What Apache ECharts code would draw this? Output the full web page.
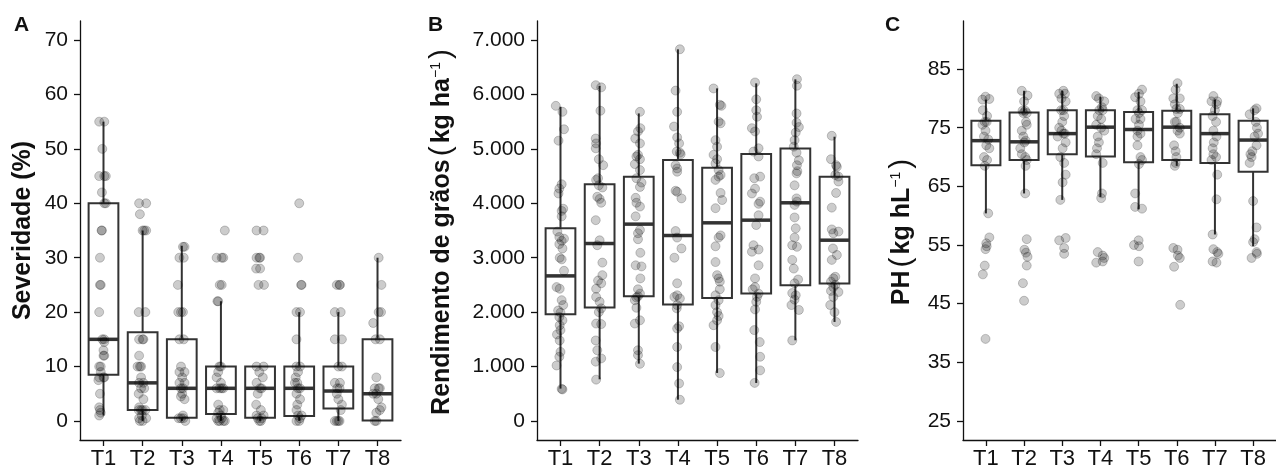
<!DOCTYPE html>
<html>
<head>
<meta charset="utf-8">
<script src="https://cdn.jsdelivr.net/npm/echarts@6/dist/echarts.min.js"></script>
<style>
  html, body { margin: 0; padding: 0; background: #fff; }
  #main { width: 1276px; height: 470px; }
</style>
</head>
<body>
<div id="main"></div>
<script>
var cats = ['T1', 'T2', 'T3', 'T4', 'T5', 'T6', 'T7', 'T8'];
var catIdx = [0, 1, 2, 3, 4, 5, 6, 7];

// caixas: [min, Q1, mediana, Q3, max]
var sevBox = [
  [1, 8.5, 15, 40, 55], [0, 2, 7, 16.3, 35], [0, 0.6, 6, 15, 32.2], [0, 1.3, 6, 10, 22],
  [0, 0.6, 6, 10, 10], [0, 0.9, 6, 10, 20], [0, 2.3, 5.5, 10, 20], [0, 0.1, 5, 15, 30]
];
var rendBox = [
  [595, 1961, 2666, 3543, 5774], [766, 2084, 3261, 4352, 6154], [1054, 2292, 3617, 4487, 5651],
  [392, 2139, 3408, 4793, 6828], [883, 2262, 3641, 4652, 6111], [699, 2342, 3690, 4904, 6203],
  [1483, 2495, 4009, 5008, 6277], [1820, 2525, 3322, 4487, 5223]
];
var phBox = [
  [60.4, 68.6, 72.8, 76.2, 79.8], [63.8, 69.5, 72.6, 77.6, 81.3], [62.7, 70.5, 74.0, 78.0, 81.3],
  [63.2, 70.1, 75.1, 78.0, 80.3], [61.1, 69.1, 74.7, 77.7, 81.1], [68.5, 69.5, 75.1, 77.9, 82.5],
  [56.8, 69.0, 74.0, 77.3, 79.8], [54.8, 67.5, 72.9, 76.2, 78.3]
];

// pontos: [valor, deslocamento do jitter]
var sevPts = [
  [[55,-0.11],[55,0.02],[50,-0.03],[45,-0.11],[45,0.02],[45,0.06],[42,-0.04],[40,0.02],[40,0.06],[35,-0.05],[35,-0.04],[30,-0.09],[25,-0.09],[25,-0.07],[20,-0.11],[15,-0.03],[15,0.02],[14.5,0.02],[13,0],[12,0.02],[12,0],[10,-0.11],[10,-0.07],[9,-0.07],[8,-0.11],[8,0],[8,0.02],[7.5,-0.13],[5,-0.09],[2.5,-0.11],[2,-0.09],[1.5,-0.07],[1,-0.11]],
  [[40,-0.09],[40,0.09],[38,-0.07],[35,0],[35,0.04],[35,0.09],[20,-0.1],[20,0.07],[15,-0.09],[15,0],[15,0.02],[12,-0.09],[10,-0.13],[10,-0.07],[10,-0.04],[8,-0.04],[7,-0.09],[7,0.02],[6,-0.04],[6,0.04],[5,-0.1],[4,0.02],[2.5,-0.09],[2,-0.1],[2,-0.04],[2,0],[2,0.07],[1,-0.02],[0.5,-0.09],[0.5,0.09],[0,-0.07],[0,0]],
  [[32,0.03],[32,0.07],[30,-0.06],[30,0.05],[25,-0.1],[20,-0.09],[20,-0.02],[20,0.03],[15,-0.06],[15,0.05],[10,-0.02],[9,-0.06],[9,0.07],[8,0.01],[7,-0.06],[7,0.07],[6,-0.02],[6,0.03],[5,0.01],[4.5,-0.02],[4,0.07],[1,0.03],[0.5,-0.08],[0.5,-0.02],[0.5,0.04],[0,0.09]],
  [[35,0.1],[30,-0.11],[30,0.02],[30,0.06],[25,-0.03],[25,0.02],[22,-0.09],[22,-0.07],[10,-0.04],[10,0],[9,-0.07],[8,-0.11],[7,0],[6,-0.11],[6,-0.03],[6,0.02],[6,0.06],[3,-0.07],[2,-0.03],[2,0.06],[1.5,-0.07],[1,0],[0.5,-0.11],[0.5,0.02],[0,-0.07],[0,-0.03],[0,0.06],[0,0.1]],
  [[35,-0.09],[35,0.09],[30,-0.09],[30,-0.02],[30,0],[28,-0.1],[28,0],[25,-0.04],[25,0.1],[10,-0.09],[10,0.09],[9,-0.02],[8,0.07],[7,-0.09],[6,0],[6,0.04],[5,-0.06],[3,-0.1],[2,0.02],[1,-0.09],[1,0.09],[0.5,-0.06],[0.5,0.04],[0,-0.02],[0,0.02]],
  [[40,0],[30,-0.03],[25,0.06],[25,0.05],[20,-0.07],[20,0.02],[15,-0.07],[10,-0.07],[10,0.02],[9,-0.03],[8,-0.09],[7,-0.11],[7,-0.05],[6,-0.03],[6,0.02],[5,-0.07],[4,0.02],[3,-0.05],[2,-0.07],[1,-0.03],[1,0.06],[0.5,0.02],[0,-0.07],[0,0]],
  [[25,-0.04],[25,0.03],[25,0.04],[20,-0.09],[20,0.06],[15,-0.09],[15,0.09],[10,0],[10,0.09],[7,-0.09],[7,0.04],[6,-0.03],[6,0.03],[5,-0.04],[4,0],[3,0.09],[2,0.06],[0,-0.09],[0,-0.04],[0,0],[0,0.03]],
  [[30,0.03],[25,0.1],[20,0.03],[20,0.09],[18,-0.11],[15,-0.05],[15,0.06],[8,-0.03],[6,-0.07],[6,0.03],[6,0.06],[5,-0.03],[5,-0.11],[4,0.02],[2.5,0.1],[2,0.06],[1.5,-0.03],[0,-0.07],[0,-0.03]]
];
var rendPts = [
  [[5790,-0.12],[5680,0.05],[5360,0.09],[5150,-0.05],[4350,0.03],[4270,-0.03],[4180,-0.05],[3900,0.07],[3860,0.03],[3760,0.03],[3480,-0.08],[3380,-0.03],[3350,0.09],[3310,0.03],[3250,-0.03],[3170,0.05],[3000,-0.02],[2970,0.03],[2760,0.09],[2460,-0.1],[2430,-0.02],[2220,0.03],[2130,0.07],[2030,-0.06],[1990,0],[1910,-0.03],[1850,0.05],[1760,-0.02],[1670,0],[1590,-0.09],[1480,-0.02],[1270,0],[1180,-0.03],[1020,-0.1],[590,0.03],[580,0.05]],
  [[6170,-0.1],[6130,0.04],[5700,0.02],[5190,-0.1],[5100,-0.09],[5010,-0.1],[4810,-0.02],[4700,0.09],[4460,-0.04],[4430,-0.09],[4330,-0.02],[4290,0.07],[4120,-0.06],[4080,0],[4010,0.04],[3690,-0.1],[3320,0],[3230,-0.06],[2910,0.07],[2680,0.07],[2580,-0.04],[2530,0.04],[2430,-0.09],[2280,-0.09],[2190,0],[2070,0.04],[2000,-0.02],[1790,-0.09],[1780,0.04],[1480,-0.1],[1300,-0.06],[1150,0.04],[1090,-0.1],[760,-0.09]],
  [[5680,0.03],[5380,0.04],[5320,-0.02],[5190,-0.09],[5100,0.03],[4890,-0.02],[4860,-0.06],[4810,0.03],[4720,-0.1],[4610,0.03],[4460,-0.06],[4380,0.07],[4300,0.03],[4100,-0.08],[4010,-0.06],[3940,0.03],[3760,-0.08],[3510,0.03],[3450,-0.02],[3340,-0.02],[3090,0.04],[2860,-0.08],[2840,0.07],[2620,0.04],[2420,-0.02],[2340,0.03],[2290,-0.02],[2270,-0.06],[2220,-0.1],[2080,-0.06],[1850,0.03],[1790,-0.1],[1300,-0.02],[1210,-0.02],[1050,0.03]],
  [[6830,0.05],[6070,-0.06],[5680,-0.02],[5410,-0.1],[5210,-0.02],[5100,0.03],[4950,-0.03],[4930,0.05],[4900,0.07],[4700,-0.06],[4640,-0.02],[4580,-0.02],[4230,-0.06],[4210,-0.02],[4090,0.09],[3490,-0.06],[3370,-0.02],[3170,0.09],[3000,-0.09],[2530,-0.02],[2310,-0.02],[2280,-0.09],[2250,0.05],[2130,-0.02],[2070,-0.03],[1740,0.03],[1700,-0.02],[1360,-0.02],[990,-0.02],[690,0.03],[390,0.05]],
  [[6110,-0.09],[5810,0.07],[5790,0.11],[5500,0.04],[5470,0.09],[5160,-0.04],[5040,0],[4890,-0.09],[4810,0],[4730,-0.04],[4610,0.04],[4520,0.09],[4490,0.04],[4430,-0.04],[4190,0.09],[4060,0.13],[3910,-0.04],[3410,0.09],[3370,0.04],[3210,-0.04],[2920,-0.04],[2680,0],[2620,0.04],[2560,0.07],[2420,0.07],[2310,-0.04],[2220,0.04],[2130,-0.04],[2000,0],[1930,0.04],[1850,0],[1760,-0.09],[1360,-0.04],[880,0.07]],
  [[6220,-0.03],[5910,0],[5710,0],[5590,0.02],[5380,-0.11],[5320,-0.03],[5010,0.06],[4950,-0.07],[4860,0.06],[4490,0.1],[4460,-0.05],[4270,-0.03],[4180,-0.11],[4030,0.1],[3990,0.06],[3780,0.06],[3600,0],[3230,-0.07],[3150,0.06],[3110,-0.11],[2860,0.06],[2620,-0.03],[2460,-0.03],[2420,-0.09],[2340,0.06],[2280,0.02],[2190,0],[2050,-0.03],[1670,-0.05],[1450,0.09],[1180,0.1],[930,0.1],[700,-0.04]],
  [[6280,0.04],[6160,0.04],[5650,0.03],[5480,0.03],[5400,0.09],[5300,0.01],[5160,-0.02],[5040,-0.04],[4930,0.03],[4790,0.09],[4700,0.04],[4590,0.05],[4550,0.03],[4330,-0.02],[4090,0.03],[4030,0.04],[3970,-0.02],[3740,-0.02],[3540,0.01],[3370,-0.02],[3230,-0.08],[3200,0.04],[2960,-0.08],[2800,-0.04],[2600,0.07],[2530,-0.02],[2350,-0.08],[2310,0.01],[2230,-0.02],[2130,-0.1],[2040,0.09],[1480,-0.08]],
  [[5240,-0.07],[4810,-0.09],[4700,0.04],[4670,0.06],[4520,0.02],[4490,0.1],[4400,0.1],[4190,0.04],[3920,-0.07],[3520,-0.07],[3480,0.1],[3450,-0.03],[3170,-0.04],[3050,0.06],[2960,-0.07],[2650,0.02],[2620,-0.03],[2560,-0.09],[2500,0.02],[2460,-0.03],[2390,-0.09],[2370,0.1],[2280,-0.03],[2130,-0.11],[2000,0],[1820,0.04]]
];
var phPts = [
  [[80.3,-0.01],[79.8,-0.09],[79.9,0.09],[78,-0.08],[77,0.03],[76,-0.03],[76,0.02],[75.5,-0.09],[74.5,-0.01],[73.5,-0.05],[73,0.06],[72,0.01],[71.5,0.09],[70,-0.05],[69.5,0.03],[68.5,-0.03],[60.4,0.06],[56.3,0.09],[55.3,0.01],[54.8,0.02],[54.3,-0.01],[51.5,-0.03],[50,-0.08],[39,-0.01]],
  [[81.3,-0.06],[80.5,0.09],[79.5,0],[77.9,-0.04],[77.9,0.03],[77.5,-0.02],[77.5,0.07],[76,0.05],[75.5,0.07],[74.5,-0.06],[73.5,-0.02],[72.8,0.04],[72.5,0.01],[71.5,-0.1],[70.5,-0.06],[70,0.03],[69.5,0.07],[68.5,0.04],[63.8,0.03],[56,0.07],[54.2,0.01],[53.7,0.05],[53,0.09],[51.5,0.07],[48.5,-0.03],[45.5,0]],
  [[81.3,0.03],[80.8,-0.08],[80.8,0.07],[80,-0.02],[79.5,0.09],[78,-0.03],[78,0.03],[77,0.05],[76,0],[75,-0.08],[74.5,-0.02],[74,0.03],[74,0.07],[73.5,-0.12],[72.5,0.09],[71.5,0.01],[70,-0.05],[69,0.05],[67,0.09],[65.7,0.01],[62.7,-0.05],[56.2,0.09],[55.8,-0.08],[54.5,0.05],[53.5,0.05]],
  [[80.4,-0.11],[80,-0.04],[79.5,0.1],[78.5,0.04],[78,-0.03],[78,0.06],[77,-0.07],[76.5,0.02],[75.5,-0.11],[75,0.02],[74.5,0.1],[73.5,-0.07],[72.5,-0.04],[71.5,-0.09],[70.5,-0.11],[69,0.06],[63.8,0.04],[63,0.02],[53.8,-0.07],[53.2,0.06],[52.8,0.1],[52.2,0.06],[52,-0.11]],
  [[81.5,0.09],[80.8,0.01],[80.2,-0.09],[79.5,0.05],[78,-0.03],[78,0.09],[77.5,0.01],[76.5,-0.08],[76.5,0.05],[75.5,0.01],[74.5,-0.03],[74,0.05],[73.5,-0.03],[72,-0.03],[70,0.05],[69.5,0.09],[68.8,0.01],[63.8,-0.09],[61.5,-0.09],[61.2,0.09],[55.8,0],[55,-0.12],[54.8,0.01],[52.2,0]],
  [[82.6,0.02],[81.5,-0.03],[80,-0.09],[80,0.08],[79,-0.05],[78.2,-0.01],[78.2,0.08],[77.5,0.03],[76,-0.05],[76,-0.01],[75,0.08],[74.5,0.02],[74,0.08],[72,-0.07],[71,-0.03],[70,-0.01],[69,-0.03],[68.5,-0.05],[54.5,-0.09],[54.2,0.02],[53.2,0.03],[52.8,0.08],[51.3,-0.07],[44.8,0.09]],
  [[80.4,-0.04],[79.5,-0.09],[79.5,0.06],[79,0.04],[78,0],[77,-0.06],[76,0.03],[74.5,-0.04],[73.5,0.04],[72.5,-0.03],[71.5,-0.06],[70.5,-0.04],[70,0.03],[69.5,-0.09],[67,0.06],[62.8,0.04],[56.8,-0.06],[54.3,-0.04],[53.8,0.06],[53.5,0.09],[52.2,-0.06],[52,0.04]],
  [[78.3,0.09],[78,0.04],[77.3,-0.09],[76,0.07],[75,0.1],[74,0.13],[73.5,0.04],[72,0.09],[71,-0.02],[70.5,-0.07],[70,-0.04],[69,-0.09],[62.5,0],[58,0.09],[56,0.04],[55.5,0],[53.8,0.09],[53.5,0.1],[52.8,-0.04]]
];

var sevTicks = [0, 10, 20, 30, 40, 50, 60, 70];
var rendTicks = [0, 1000, 2000, 3000, 4000, 5000, 6000, 7000];
var phTicks = [25, 35, 45, 55, 65, 75, 85];

var FONT = 'Liberation Sans';
var INK = '#111111';
var BOXC = '#333333';

function renderBox(params, api) {
  var x = api.value(0);
  var lo = api.coord([x, api.value(1)]);
  var q1 = api.coord([x, api.value(2)]);
  var md = api.coord([x, api.value(3)]);
  var q3 = api.coord([x, api.value(4)]);
  var hi = api.coord([x, api.value(5)]);
  var hw = api.size([0.76, 0])[0] / 2;
  var ls = { stroke: BOXC, lineWidth: 2 };
  return {
    type: 'group',
    children: [
      { type: 'line', shape: { x1: lo[0], y1: lo[1], x2: q1[0], y2: q1[1] }, style: ls },
      { type: 'line', shape: { x1: q3[0], y1: q3[1], x2: hi[0], y2: hi[1] }, style: ls },
      { type: 'rect', shape: { x: q3[0] - hw, y: q3[1], width: hw * 2, height: q1[1] - q3[1] },
        style: { fill: 'none', stroke: BOXC, lineWidth: 2 } },
      { type: 'line', shape: { x1: md[0] - hw, y1: md[1], x2: md[0] + hw, y2: md[1] },
        style: { stroke: BOXC, lineWidth: 3.5 } }
    ]
  };
}

function boxData(box) {
  return box.map(function (b, i) { return [i].concat(b); });
}
function ptData(pts) {
  var out = [];
  pts.forEach(function (grp, i) {
    grp.forEach(function (p) { out.push([i + p[1], p[0]]); });
  });
  return out;
}

var panels = [
  { left: 80, box: sevBox, pts: sevPts, min: -3.5, max: 73.5, ticks: sevTicks,
    fmt: function (v) { return String(v); },
    name: '{b|Severidade (%)}', gap: 42 },
  { left: 537, box: rendBox, pts: rendPts, min: -349, max: 7349, ticks: rendTicks,
    fmt: function (v) { return v === 0 ? '0' : (v / 1000).toFixed(3); },
    name: '{b|Rendimento de grãos}{p|(}{b|kg ha}{s|−1}{p|)}', gap: 80 },
  { left: 963, box: phBox, pts: phPts, min: 21.76, max: 93.2, ticks: phTicks,
    fmt: function (v) { return String(v); },
    name: '{b|PH}{p|(}{b|kg hL}{s|−1}{p|)}', gap: 46 }
];

var grids = [], xAxes = [], yAxes = [], series = [];
panels.forEach(function (p, k) {
  grids.push({ left: p.left, top: 21, width: 321, height: 419 });
  xAxes.push({
    type: 'value', gridIndex: k, min: -0.6, max: 7.6,
    axisLine: { show: true, onZero: false, lineStyle: { color: INK, width: 1.3 } },
    axisTick: { show: true, length: 6, customValues: catIdx, lineStyle: { color: INK, width: 1.3 } },
    axisLabel: { customValues: catIdx, margin: 8, color: INK, fontSize: 22, fontFamily: FONT,
      formatter: function (v) { return cats[Math.round(v)]; } },
    splitLine: { show: false }
  });
  yAxes.push({
    type: 'value', gridIndex: k, min: p.min, max: p.max,
    name: p.name, nameLocation: 'middle', nameRotate: 90, nameGap: p.gap,
    nameTextStyle: {
      rich: {
        b: { fontSize: 25, fontWeight: 'bold', color: INK, fontFamily: FONT, lineHeight: 30 },
        p: { fontSize: 30, color: INK, fontFamily: FONT, lineHeight: 30, padding: [0, 3, 0, 3] },
        s: { fontSize: 14, color: INK, fontFamily: FONT, verticalAlign: 'bottom', padding: [0, 0, 14, 0] }
      }
    },
    axisLine: { show: true, onZero: false, lineStyle: { color: INK, width: 1.3 } },
    axisTick: { show: true, length: 6, customValues: p.ticks, lineStyle: { color: INK, width: 1.3 } },
    axisLabel: { customValues: p.ticks, margin: 12, color: INK, fontSize: 21, fontFamily: FONT,
      formatter: p.fmt },
    splitLine: { show: false }
  });
  series.push({
    type: 'custom', xAxisIndex: k, yAxisIndex: k, z: 2,
    renderItem: renderBox,
    encode: { x: 0, y: [1, 2, 3, 4, 5] },
    data: boxData(p.box),
    silent: true
  });
  series.push({
    type: 'scatter', xAxisIndex: k, yAxisIndex: k, z: 3,
    symbolSize: 9,
    itemStyle: { color: 'rgba(0,0,0,0.2)', borderColor: 'rgba(0,0,0,0.2)', borderWidth: 1, opacity: 1 },
    data: ptData(p.pts),
    silent: true
  });
});

var chart = echarts.init(document.getElementById('main'));
chart.setOption({
  animation: false,
  backgroundColor: '#ffffff',
  title: [
    { text: 'A', left: 14, top: 15, padding: 0, textStyle: { fontSize: 21, fontWeight: 'bold', color: INK, fontFamily: FONT } },
    { text: 'B', left: 428, top: 15, padding: 0, textStyle: { fontSize: 21, fontWeight: 'bold', color: INK, fontFamily: FONT } },
    { text: 'C', left: 885, top: 15, padding: 0, textStyle: { fontSize: 21, fontWeight: 'bold', color: INK, fontFamily: FONT } }
  ],
  grid: grids,
  xAxis: xAxes,
  yAxis: yAxes,
  series: series
});
</script>
</body>
</html>
